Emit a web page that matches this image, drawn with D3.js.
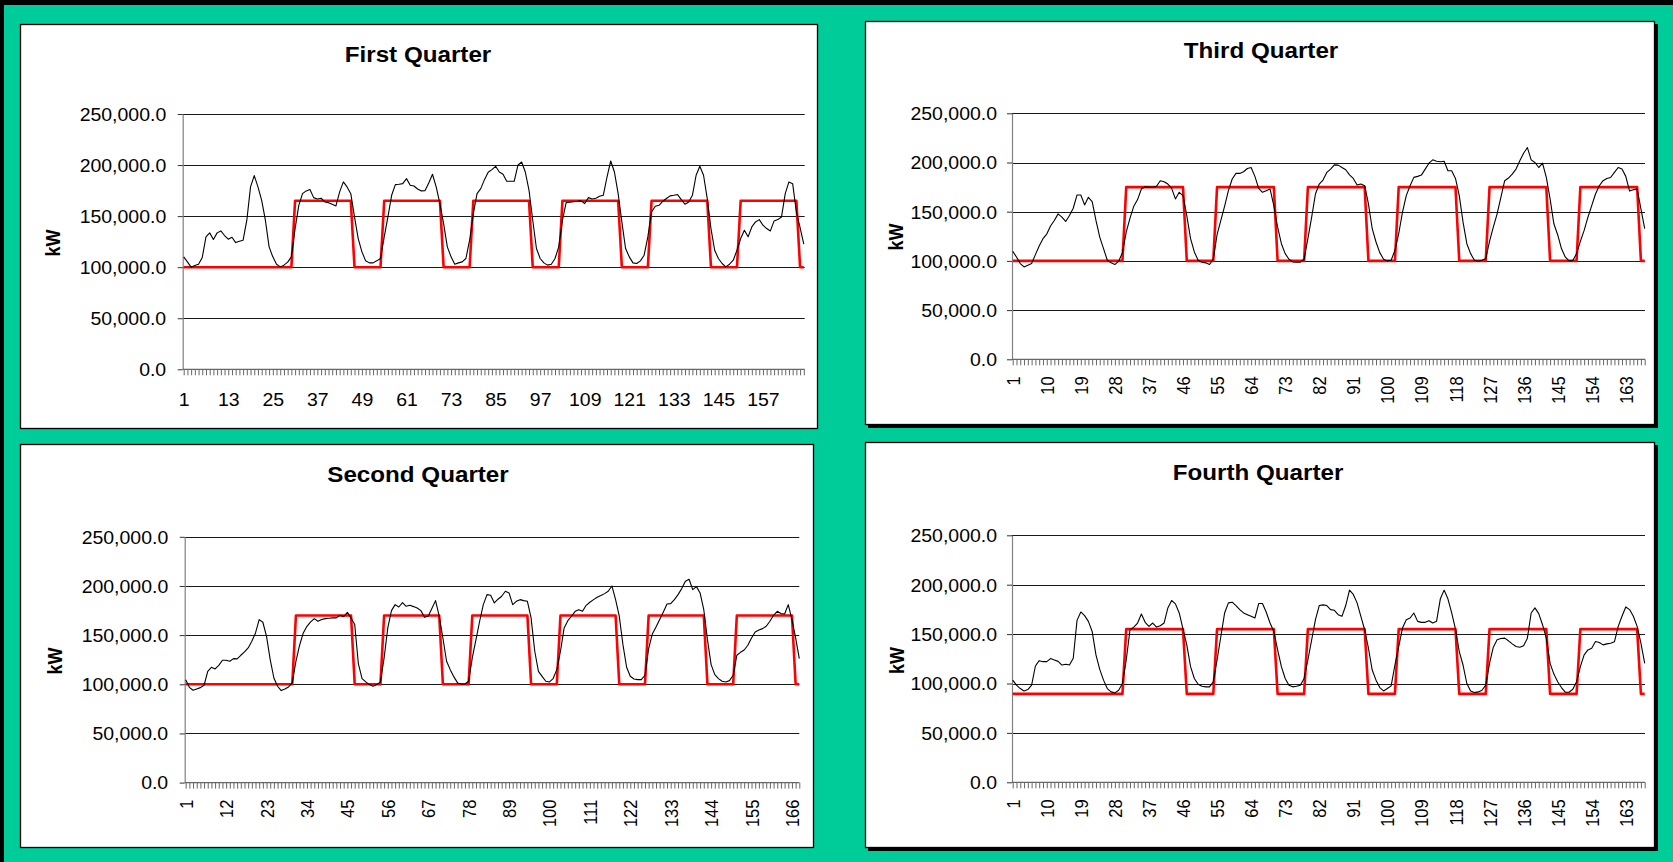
<!DOCTYPE html>
<html>
<head>
<meta charset="utf-8">
<script src="https://cdn.jsdelivr.net/npm/d3@7"></script>
<style>
  html, body { margin: 0; padding: 0; background: #00CC99; overflow: hidden; }
  svg text { font-family: "Liberation Sans", Arial, sans-serif; fill: #000; }
</style>
</head>
<body>
<svg id="chart" width="1673" height="862"></svg>
<script>
// Hour of the week (1..168)
const hours = d3.range(1, 169);

// Metered load, kW, one row per day
const q1Load = [
  110100,105200,100000,101600,102900,109500,129700,133600,127100,133600,135500,131000,127400,129300,124100,125400,126400,146000,178600,189700,178600,165500,146000,119900,
  110100,102900,100300,102000,104900,110100,137800,160600,172000,174700,176000,168100,166800,167500,163900,163200,161600,160000,173700,183500,178600,172000,149200,128000,
  115000,106200,104200,104200,106200,108500,129700,149200,170400,180800,181200,181800,186700,180200,179500,176600,174700,175000,182500,191000,178600,162300,142700,119900,
  110100,102900,104200,105200,108500,126400,152500,172000,176900,185700,192900,195500,198800,193200,191000,184100,184100,184100,199800,203000,193200,175300,146000,118300,
  108500,104200,102000,102900,108500,119900,146000,163200,163600,164200,164500,164900,162300,168100,166800,167500,169400,170400,188300,204000,193200,172000,144300,118300,
  110100,104200,103600,106200,111700,129700,154100,159700,160600,164500,167200,169800,170400,171100,166200,161600,163900,170400,190000,198800,190000,167200,137800,116600,
  108500,103600,100300,102900,106800,116600,128000,136200,129700,139400,144300,146600,141100,137800,135500,145300,146600,149200,172000,183500,181800,154100,138800,122500
];
const q2Load = [
  104700,96900,93900,95300,96600,99000,113200,117300,115600,119300,124400,124400,123400,126100,125800,129500,132900,137000,143700,152200,165800,163100,148800,125100,
  106400,98000,93600,95300,97300,101400,123400,139700,152200,159000,163400,166800,164100,165800,166800,167100,167500,167500,170200,168800,173200,167500,160700,120700,
  105800,102400,99700,98000,99700,102400,126800,157300,174900,181000,178600,183100,179300,180300,179000,177600,174900,168100,169200,177000,185100,169200,147100,123400,
  114900,107500,101400,100300,100300,103100,126800,145400,164100,181000,191200,190500,182700,186500,189500,194600,192900,181000,184400,186100,185100,184400,167500,133600,
  113200,108100,103100,102400,105800,114900,133600,157300,164700,169200,174200,175900,174200,180300,183400,186100,188500,190200,192200,194600,200000,186100,169200,140300,
  117300,108100,105400,104700,104700,109200,136300,151200,158300,165800,173600,181700,182000,186100,191200,197300,204800,206800,196300,199300,192900,175900,145400,120000,
  109800,105800,103100,102400,103700,109200,129500,132500,134900,139700,147100,153200,155300,156600,159000,164100,170200,174200,171900,171500,181000,165800,147100,126100
];
const q3Load = [
  109800,104000,97300,93900,95600,97300,106400,115200,122600,127300,135400,141100,147800,144400,140100,146100,153500,167000,167000,156900,164600,160300,141100,124200,
  112500,100700,98000,96300,99700,108400,129300,143400,155600,162300,173100,175400,175100,174700,175800,181500,180500,178100,173700,163000,169700,166300,146100,122600,
  109100,100700,98700,98000,96300,101700,126600,141100,155600,171400,183200,188900,188900,190600,193900,194900,185900,173700,169700,171400,173100,156200,134300,117500,
  107400,101700,99000,98700,98700,101700,122600,144400,168000,178100,182200,189900,193300,197600,197300,194900,192600,187500,183800,177100,178100,176400,157900,132700,
  119200,108400,101700,100000,100700,110800,127600,149500,166300,176400,184900,185900,187200,193300,199300,202700,201300,200700,201300,191600,191600,183800,166300,139400,
  117500,107400,100700,99700,100700,102400,119900,134300,147800,164600,181500,184200,188200,193300,201700,209400,215200,202700,200000,194900,199300,184900,163000,137700,
  126600,112500,104000,100000,100300,107400,119900,131000,144400,156200,168000,176400,181500,183800,184800,189900,194900,193300,185900,171000,172400,173100,152900,132700
];
const q4Load = [
  103400,98300,94900,92500,93900,98300,117700,123100,122100,122100,125200,123800,122400,118700,119400,118700,125500,163900,172400,168700,162900,152700,128900,114300,
  103400,94900,91500,90500,93200,100000,123800,154400,157100,161200,170400,161900,157800,161200,157100,158500,161200,176500,184000,180600,171400,155100,139100,117000,
  105100,99300,97300,96600,96600,101700,123800,147600,171400,181600,182300,178900,174800,171400,169700,168000,166300,180900,180900,172100,161200,152700,134000,117000,
  105100,98300,96600,97300,98300,105100,123800,144200,164600,178900,179600,178900,174800,174100,169700,168000,178900,194500,190100,181600,168000,154400,135700,113600,
  103400,95900,92500,94900,97600,118700,137400,156100,164600,166300,171400,162900,161900,161900,163600,161200,162900,185700,194500,185700,171400,155100,132300,118700,
  100000,92500,90800,91500,93200,98300,120400,136700,144200,145600,145900,143200,140100,137400,136700,138100,145900,171400,176500,170700,159500,145900,120400,109500,
  101700,95900,91200,91200,94200,101700,117000,128900,134000,135700,142500,141500,139100,140100,140800,142200,157800,168000,177500,174800,168000,157800,140800,120400
];

// Demand limit schedules as runs of [hours, kW]
const q1Target = [[30,100000],[16,165000],[8,100000],[16,165000],[8,100000],[16,165000],[8,100000],[16,165000],[8,100000],[16,165000],[8,100000],[16,165000],[2,100000]];
const q2Target = [[30,100000],[16,170000],[8,100000],[16,170000],[8,100000],[16,170000],[8,100000],[16,170000],[8,100000],[16,170000],[8,100000],[16,170000],[2,100000]];
const q3Target = [[30,100000],[16,175000],[8,100000],[16,175000],[8,100000],[16,175000],[8,100000],[16,175000],[8,100000],[16,175000],[8,100000],[16,175000],[2,100000]];
const q4Target = [[30,89500],[16,155000],[8,89500],[16,155000],[8,89500],[16,155000],[8,89500],[16,155000],[8,89500],[16,155000],[8,89500],[16,155000],[2,89500]];

// Axis ticks
const yTicks = [0, 50000, 100000, 150000, 200000, 250000];
const q1Labels = [1,13,25,37,49,61,73,85,97,109,121,133,145,157];
const q2Labels = [1,12,23,34,45,56,67,78,89,100,111,122,133,144,155,166];
const q3Labels = [1,10,19,28,37,46,55,64,73,82,91,100,109,118,127,136,145,154,163];
const q4Labels = [1,10,19,28,37,46,55,64,73,82,91,100,109,118,127,136,145,154,163];

const titles = ["First Quarter", "Second Quarter", "Third Quarter", "Fourth Quarter"];

function expandRuns(runs) {
  const out = [];
  runs.forEach(([n, v]) => { for (let k = 0; k < n; k++) out.push(v); });
  return out;
}

const svg = d3.select("#chart");
const SX = 1.1;                 // horizontal text stretch
const fmt = d3.format(",.1f");

// page frame
svg.append("rect").attr("x", 0).attr("y", 0).attr("width", 1673).attr("height", 862).attr("fill", "#00CC99");
svg.append("rect").attr("x", 0).attr("y", 0).attr("width", 1673).attr("height", 5).attr("fill", "#000");
svg.append("rect").attr("x", 0).attr("y", 0).attr("width", 4).attr("height", 862).attr("fill", "#000");

const panels = [
  { title: titles[0], load: q1Load, target: q1Target, labels: q1Labels, rotate: false,
    box: [20, 24, 818, 429], shadow: false, plotX: [182.7, 804.7], ptX: [183.7, 803.8], y0: 369.3, y250: 114,
    titleXY: [418, 61.5], kwXY: [53, 243], labelGap: 16.5 },
  { title: titles[1], load: q2Load, target: q2Target, labels: q2Labels, rotate: true,
    box: [20, 444, 814, 848], shadow: false, plotX: [184.7, 799.3], ptX: [185.7, 799.3], y0: 782.6, y250: 536.8,
    titleXY: [418, 482], kwXY: [55, 661], labelGap: 16.5 },
  { title: titles[2], load: q3Load, target: q3Target, labels: q3Labels, rotate: true,
    box: [865, 21, 1655, 425], shadow: true, plotX: [1012, 1645], ptX: [1012.7, 1644.7], y0: 359.3, y250: 113.3,
    titleXY: [1261, 58], kwXY: [896, 237], labelGap: 15 },
  { title: titles[3], load: q4Load, target: q4Target, labels: q4Labels, rotate: true,
    box: [865, 442, 1655, 848], shadow: true, plotX: [1012, 1645], ptX: [1012.7, 1644.7], y0: 782.3, y250: 535.3,
    titleXY: [1258, 480], kwXY: [896.5, 660.5], labelGap: 15 }
];

panels.forEach(drawPanel);

function drawPanel(p) {
  const g = svg.append("g");
  const [bx0, by0, bx1, by1] = p.box;

  if (p.shadow) {
    g.append("rect").attr("x", bx0 + 3).attr("y", by0 + 3)
      .attr("width", bx1 - bx0).attr("height", by1 - by0).attr("fill", "#000");
  }
  g.append("rect").attr("x", bx0 + 0.5).attr("y", by0 + 0.5)
    .attr("width", bx1 - bx0 - 1).attr("height", by1 - by0 - 1)
    .attr("fill", "#fff").attr("stroke", "#000").attr("stroke-width", 1.3);

  const x = d3.scalePoint().domain(hours).range(p.ptX);
  const y = d3.scaleLinear().domain([0, 250000]).range([p.y0, p.y250]);

  // gridlines
  g.append("g").selectAll("line").data(yTicks.slice(1)).join("line")
    .attr("x1", p.plotX[0]).attr("x2", p.plotX[1])
    .attr("y1", d => Math.round(y(d)) + 0.5).attr("y2", d => Math.round(y(d)) + 0.5)
    .attr("stroke", "#1a1a1a").attr("stroke-width", 1);

  // y axis
  const yAxis = g.append("g").attr("transform", `translate(${p.plotX[0]},0)`)
    .call(d3.axisLeft(y).tickValues(yTicks).tickSize(5).tickSizeOuter(0).tickFormat(fmt));
  yAxis.select(".domain").attr("stroke", "#808080").attr("stroke-width", 1.2);
  yAxis.selectAll(".tick line").attr("stroke", "#333");
  yAxis.selectAll(".tick text")
    .attr("x", null).attr("dy", "0.36em")
    .attr("text-anchor", "end")
    .attr("transform", `translate(${-p.labelGap},0) scale(${SX},1)`)
    .style("font-size", "17.7px");

  // x axis: a tick for every hour, labels on selected hours
  const labelSet = new Set(p.labels);
  const xAxis = g.append("g").attr("transform", `translate(0,${p.y0})`)
    .call(d3.axisBottom(x).tickValues(hours).tickSize(6).tickSizeOuter(0)
      .tickFormat(d => labelSet.has(d) ? String(d) : ""));
  xAxis.select(".domain").remove();
  xAxis.selectAll(".tick line").attr("stroke", "#555").attr("stroke-width", 0.9);
  g.append("line").attr("x1", p.plotX[0]).attr("x2", p.plotX[1])
    .attr("y1", p.y0).attr("y2", p.y0).attr("stroke", "#666").attr("stroke-width", 1.2);

  const xt = xAxis.selectAll(".tick text").attr("y", null).attr("x", null);
  if (p.rotate) {
    xt.attr("text-anchor", "end").attr("dy", "0.36em")
      .attr("transform", `translate(0,17) scale(${SX},1) rotate(-90)`)
      .style("font-size", "16.5px");
  } else {
    xt.attr("text-anchor", "middle").attr("dy", "0")
      .attr("transform", `translate(0,36.7) scale(${SX},1)`)
      .style("font-size", "17.7px");
  }

  // series
  const line = d3.line().x((d, i) => x(hours[i])).y(d => y(d));
  g.append("path").datum(expandRuns(p.target))
    .attr("d", line).attr("fill", "none")
    .attr("stroke", "#FF0000").attr("stroke-width", 2.6).attr("stroke-linejoin", "round");
  g.append("path").datum(p.load)
    .attr("d", line).attr("fill", "none")
    .attr("stroke", "#000").attr("stroke-width", 1.1).attr("stroke-linejoin", "round");

  // title and unit
  g.append("text")
    .attr("transform", `translate(${p.titleXY[0]},${p.titleXY[1]}) scale(${SX},1)`)
    .attr("text-anchor", "middle").style("font-size", "22px").style("font-weight", "bold")
    .text(p.title);
  g.append("text")
    .attr("transform", `translate(${p.kwXY[0]},${p.kwXY[1]}) scale(${SX},1) rotate(-90)`)
    .attr("text-anchor", "middle").attr("dy", "0.36em")
    .style("font-size", "18px").style("font-weight", "bold")
    .text("kW");
}
</script>
</body>
</html>
